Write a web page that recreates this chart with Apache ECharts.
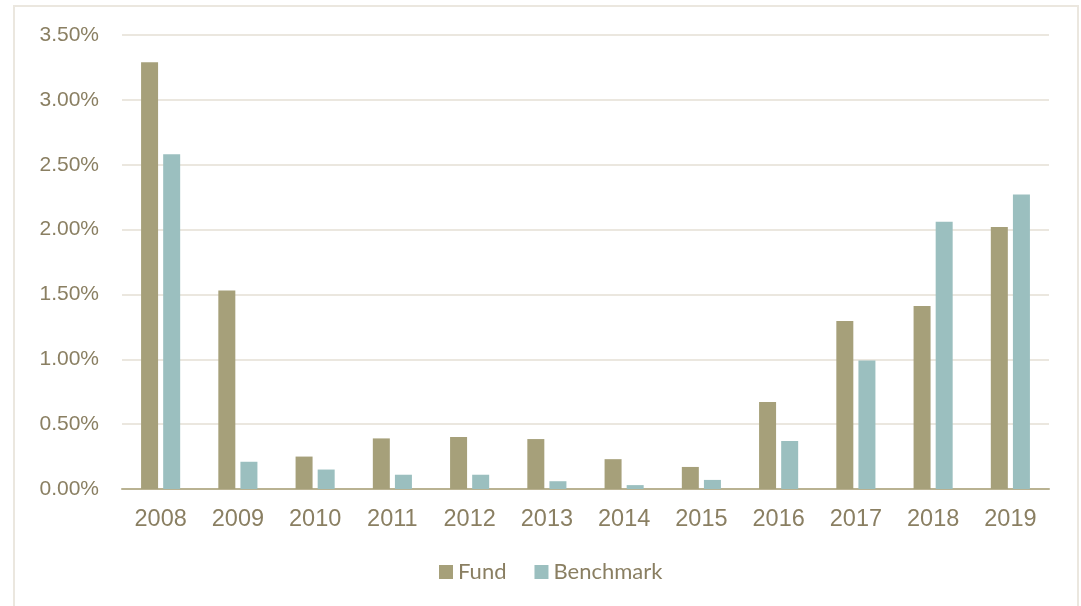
<!DOCTYPE html>
<html><head><meta charset="utf-8">
<script src="https://cdn.jsdelivr.net/npm/echarts@6/dist/echarts.min.js"></script>
<style>html,body{margin:0;padding:0;background:#fff}#c{width:1081px;height:606px}</style>
</head><body><div id="c"></div>
<script>
const categories = ['2008','2009','2010','2011','2012','2013','2014','2015','2016','2017','2018','2019'];
const fund = [3.29, 1.53, 0.25, 0.39, 0.40, 0.385, 0.23, 0.17, 0.67, 1.295, 1.41, 2.02];
const benchmark = [2.58, 0.21, 0.15, 0.11, 0.11, 0.06, 0.03, 0.07, 0.37, 0.99, 2.06, 2.27];
const seriesNames = ['Fund', 'Benchmark'];

const chart = echarts.init(document.getElementById('c'));
const textColor = '#8a7f62';
chart.setOption({
  animation: false,
  backgroundColor: '#fff',
  graphic: [{
    type: 'rect', shape: {x: 14, y: 6, width: 1064, height: 620},
    style: {fill: 'none', stroke: '#ebe7df', lineWidth: 2}, silent: true
  }],
  grid: {left: 122, right: 32, top: 35, bottom: 117, containLabel: false},
  legend: {
    data: seriesNames, top: 561, left: 439, itemWidth: 14, itemHeight: 14, itemGap: 28,
    icon: 'rect', padding: 0,
    textStyle: {color: textColor, fontSize: 22, fontFamily: 'Lato'}
  },
  xAxis: {
    type: 'category', data: categories,
    axisLine: {lineStyle: {color: '#b9b292', width: 2}},
    axisTick: {show: false},
    axisLabel: {color: textColor, fontSize: 23.5, fontFamily: 'Liberation Sans', margin: 19}
  },
  yAxis: {
    type: 'value', min: 0, max: 3.5, interval: 0.5,
    axisLine: {show: false}, axisTick: {show: false},
    splitLine: {lineStyle: {color: '#ebe7df', width: 2}},
    axisLabel: {color: textColor, fontSize: 21, fontFamily: 'Liberation Sans', margin: 23,
      formatter: v => v.toFixed(2) + '%'}
  },
  series: [
    {name: seriesNames[0], type: 'bar', data: fund, barWidth: 17, barGap: '30%',
     itemStyle: {color: '#a6a07a'}},
    {name: seriesNames[1], type: 'bar', data: benchmark, barWidth: 17,
     itemStyle: {color: '#9bbfbf'}}
  ]
});
</script></body></html>
